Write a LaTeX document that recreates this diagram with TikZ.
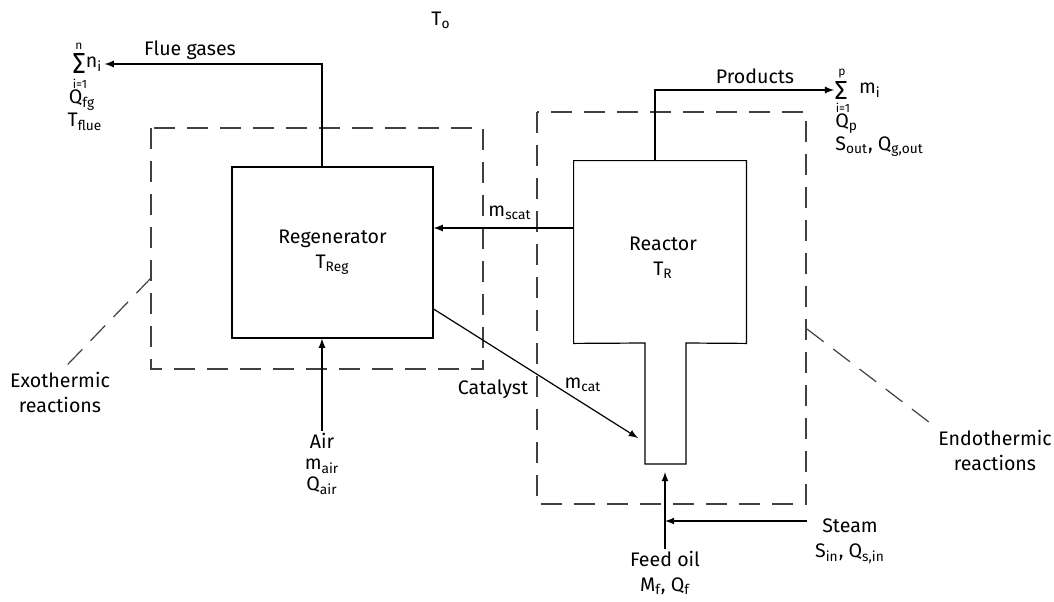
\documentclass[tikz,border=0pt]{standalone}
\usepackage{fontspec}
\setmainfont{Fira Sans}
\usetikzlibrary{arrows}

\newcommand{\sbs}[1]{\textsubscript{#1}}

\begin{document}
\begin{tikzpicture}[x=0.5pt,y=-0.5pt,>=latex,
  font=\fontsize{9.8}{12.5}\selectfont,
  unit/.style={draw,semithick,minimum width=100.5pt,minimum height=85.5pt,align=center},
  flow/.style={->,semithick},
  zone/.style={semithick,draw=black!75,dash pattern=on 10.5pt off 6pt},
  txt/.style={align=center,inner sep=1pt},
  lim/.style={inner sep=0pt,font=\fontsize{6}{6}\selectfont},
  sigma/.style={inner sep=0pt}]
\useasboundingbox (0,0) rectangle (1054,601);

\draw[zone] (151,128) rectangle (483,369);
\draw[zone] (537,112) rectangle (806,504);

\node (reg) [unit] at (332.5,252.5) {Regenerator\\T\sbs{Reg}};
\node (reactor) [minimum width=86pt,minimum height=91pt,inner sep=0pt] at (660,252) {};
\node[txt] at ([xshift=1.5pt,yshift=-3pt]reactor.center) {Reactor\\T\sbs{R}};
\draw[semithick] (reactor.north west) -- (reactor.north east) -- (reactor.south east)
  -- (686,343) -- (686,464) -- (645,464) -- (645,343) -- (reactor.south west) -- cycle;
\coordinate (riser) at (665,464);
\coordinate (catin) at (638,438);
\coordinate (steamin) at (807,521);
\coordinate (exoend) at (151,278);
\coordinate (endoend) at (807,329);

\node[txt] (to) at (441,20) {T\sbs{o}};

\node[txt] (flue) at (190,50) {Flue gases};
\node[sigma] (fgsig) at (79,63) {\resizebox{6.5pt}{10pt}{Σ}};
\node[lim] at (79,46) {n};
\node[lim] at (80,84) {i=1};
\node[txt] (ni) at (94,64) {n\sbs{i}};
\node[txt] (qfg) at (82,100) {Q\sbs{fg}};
\node[txt] (tflue) at (85,122) {T\sbs{flue}};

\node[txt] (prod) at (755,76) {Products};
\node[sigma] (psig) at (841,90) {\resizebox{6.5pt}{9pt}{Σ}};
\node[lim] at (842,74) {p};
\node[lim] at (843,108) {i=1};
\node[txt] (mi) at (870,90) {m\sbs{i}};
\node[txt,anchor=west] (qp) at (833,124) {Q\sbs{p}};
\node[txt,anchor=west] (sout) at (833,147) {S\sbs{out}, Q\sbs{g,out}};

\node[txt] (air) at (322,464) {Air\\[-2pt]m\sbs{air}\\[-2pt]Q\sbs{air}};
\node[txt] (feed) at (665,573) {Feed oil\\M\sbs{f}, Q\sbs{f}};
\node[txt] (steam) at (850,541) {Steam\\S\sbs{in}, Q\sbs{s,in}};
\node[txt] (exo) at (60,392) {Exothermic\\reactions};
\node[txt] (endo) at (995,450) {Endothermic\\reactions};

\node[txt] (mscat) at (510,213) {m\sbs{scat}};
\node[txt] (mcat) at (583,385) {m\sbs{cat}};
\node[txt] (catal) at (493,389) {Catalyst};

\draw[flow] (reg.north -| air.north) |- (ni.east);
\draw[flow] ([xshift=-2.5pt]reactor.north) |- (psig.west);
\draw[flow] ([yshift=12pt]reactor.west) -- ([yshift=12pt]reactor.west -| reg.east);
\draw[flow] ([yshift=-28.25pt]reg.east) -- (catin);
\draw[flow] (air.north) -- (air.north |- reg.south);
\draw[flow,shorten >=4pt] (feed.north) -- (feed.north |- riser);
\draw[flow] (steamin) -- (steamin -| feed.north);

\draw[zone] (exoend) -- ([xshift=1.5pt]exo.north);
\draw[zone] (endoend) -- (endo.north west);
\end{tikzpicture}
\end{document}
